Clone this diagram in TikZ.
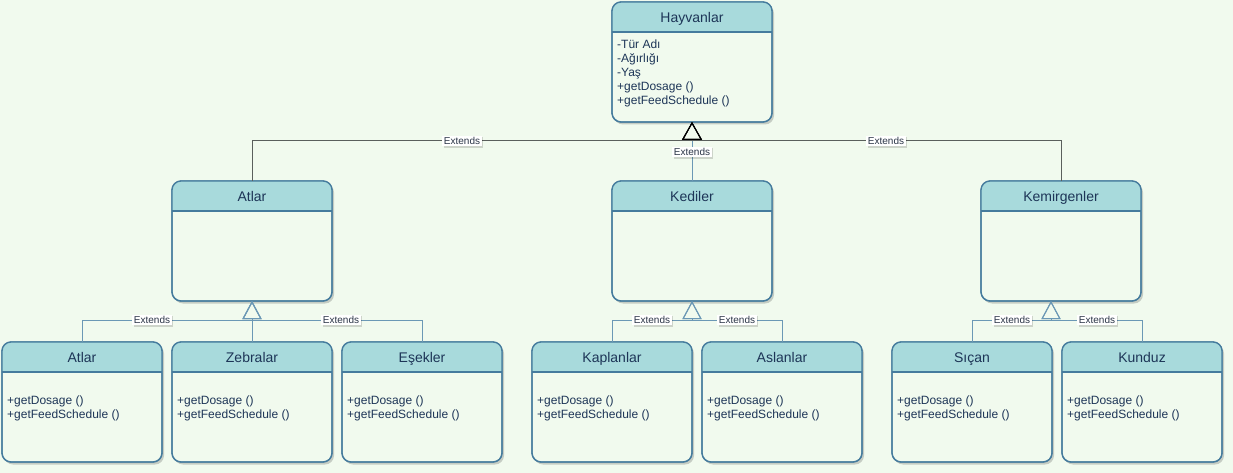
\documentclass[tikz,border=0pt]{standalone}
\usepackage{fontspec}
\setmainfont{Liberation Sans}
\usetikzlibrary{arrows.meta,calc,shadows}
\definecolor{bgc}{HTML}{F1FAEE}
\definecolor{headc}{HTML}{A8DADC}
\definecolor{strokec}{HTML}{457B9D}
\definecolor{textc}{HTML}{1D3557}
\definecolor{linec}{HTML}{6B98B5}
\definecolor{grayline}{HTML}{5A5F5C}
\definecolor{labtext}{HTML}{2B3547}
\tikzset{
  clsbox/.style={rectangle, rounded corners=9pt, draw=strokec, line width=1.3pt, fill=bgc,
    minimum width=160pt, minimum height=120pt, inner sep=0pt, outer sep=0pt, anchor=north west,
    drop shadow={shadow xshift=2pt, shadow yshift=-2.5pt, opacity=0.18, fill=black}},
  headtext/.style={font=\fontsize{14}{16}\selectfont, text=textc, inner sep=0pt, anchor=base},
  bodytext/.style={font=\fontsize{12}{14}\selectfont, text=textc, align=left, inner sep=0pt, anchor=north west},
  extlabel/.style={font=\fontsize{10}{12}\selectfont, fill=white, inner sep=1.5pt, text=labtext,
    drop shadow={shadow xshift=1.5pt, shadow yshift=-1.5pt, opacity=0.15, fill=black}},
  gen/.style={-{Triangle[open, length=18pt, width=19pt]}, line width=1pt, draw=linec},
  topgen/.style={-{Triangle[open, length=18pt, width=20pt, black]}, line width=1pt, draw=grayline},
  midgen/.style={-{Triangle[open, length=18pt, width=20pt, black]}, line width=1pt, draw=linec},
}
\newcommand\umlclass[6]{%
  \node[clsbox] (#1) at (#2,#3) {};
  \begin{scope}
    \clip (#1.north west) rectangle ($(#1.north east)+(0,30)$);
    \fill[headc, rounded corners=9pt] (#1.north west) rectangle (#1.south east);
  \end{scope}
  \draw[strokec, line width=1.3pt, rounded corners=9pt] (#1.north west) rectangle (#1.south east);
  \draw[strokec, line width=1.3pt] ($(#1.north west)+(0,30)$) -- ($(#1.north east)+(0,30)$);
  \node[headtext] (#1-title) at ($(#1.north)+(0,20.5)$) {#4};
  \node[bodytext] (#1-body) at ($(#1.north west)+(5,#6)$) {#5};
}
\begin{document}
\begin{tikzpicture}[x=1pt, y=-1pt]
\fill[bgc] (0,0) rectangle (1233,473);
\useasboundingbox (0,0) rectangle (1233,473);

\umlclass{hay}{612}{2}{Hayvanlar}{-Tür Adı\\-Ağırlığı\\-Yaş\\+getDosage ()\\+getFeedSchedule ()}{38}
\umlclass{atl}{172}{181}{Atlar}{}{38}
\umlclass{ked}{612}{181}{Kediler}{}{38}
\umlclass{kem}{981}{181}{Kemirgenler}{}{38}

\umlclass{atlb}{2}{342}{Atlar}{+getDosage ()\\+getFeedSchedule ()}{54}
\umlclass{zeb}{172}{342}{Zebralar}{+getDosage ()\\+getFeedSchedule ()}{54}
\umlclass{ese}{342}{342}{Eşekler}{+getDosage ()\\+getFeedSchedule ()}{54}
\umlclass{kap}{532}{342}{Kaplanlar}{+getDosage ()\\+getFeedSchedule ()}{54}
\umlclass{asl}{702}{342}{Aslanlar}{+getDosage ()\\+getFeedSchedule ()}{54}
\umlclass{sic}{892}{342}{Sıçan}{+getDosage ()\\+getFeedSchedule ()}{54}
\umlclass{kun}{1062}{342}{Kunduz}{+getDosage ()\\+getFeedSchedule ()}{54}

% top level
\draw[midgen] (ked.north) -- (hay.south);
\draw[topgen] (atl.north) |- ($(hay.south)+(0,19)$) -- (hay.south);
\draw[topgen] (kem.north) |- ($(hay.south)+(0,19)$) -- (hay.south);

% horses
\draw[gen] (atlb.north) |- ($(atl.south)+(0,19)$) -- (atl.south);
\draw[gen] (zeb.north) -- (atl.south);
\draw[gen] (ese.north) |- ($(atl.south)+(0,19)$) -- (atl.south);
% cats
\draw[gen] (kap.north) |- ($(ked.south)+(0,19)$) -- (ked.south);
\draw[gen] (asl.north) |- ($(ked.south)+(0,19)$) -- (ked.south);
% rodents
\coordinate (kemT) at ($(kem.south)+(-10,0)$);
\draw[gen] (sic.north) |- ($(kemT)+(0,19)$) -- (kemT);
\draw[gen] (kun.north) |- ($(kemT)+(0,19)$) -- (kemT);

% labels
\node[extlabel] (e1) at (462,141) {Extends};
\node[extlabel] (e2) at (692,152) {Extends};
\node[extlabel] (e3) at (886,141) {Extends};
\node[extlabel] (e4) at (152,320) {Extends};
\node[extlabel] (e5) at (341,320) {Extends};
\node[extlabel] (e6) at (652,320) {Extends};
\node[extlabel] (e7) at (737,320) {Extends};
\node[extlabel] (e8) at (1012,320) {Extends};
\node[extlabel] (e9) at (1097,320) {Extends};
\end{tikzpicture}
\end{document}
